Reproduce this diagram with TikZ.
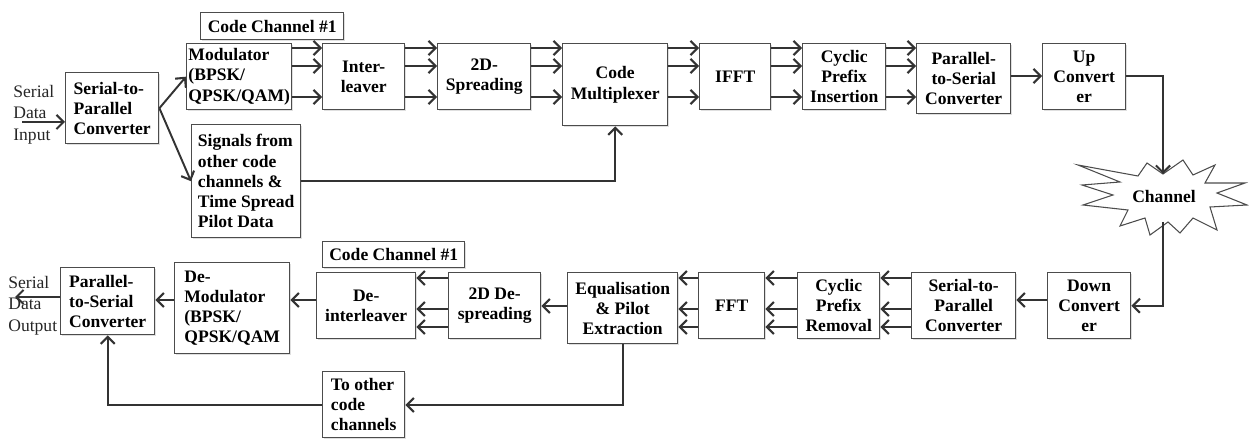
\documentclass[tikz,border=0pt]{standalone}
\usepackage{fontspec}
\setmainfont{Liberation Serif}
\usetikzlibrary{arrows.meta,shadows}
\newcommand{\mybox}[7]{\node[box,#6,minimum width={(#4-#2)*0.02cm},minimum height={(#5-#3)*0.02cm},anchor=north west] (#1) at (#2,#3) {#7};}
\begin{document}
\begin{tikzpicture}[x=0.02cm,y=-0.02cm,
 box/.style={draw=black!70, line width=0.8pt, fill=white, inner sep=1pt,
   font=\bfseries\fontsize{10}{11.5}\selectfont, align=center,
   drop shadow={opacity=0.25,shadow xshift=0.8pt,shadow yshift=-0.8pt}},
 arr/.style={draw=black!80, line width=1.1pt, -{Straight Barb[length=4pt,width=8pt,line width=1.2pt]}},
 lbl/.style={font=\fontsize{10}{12.2}\selectfont, align=left, inner sep=0pt, text=black!85}]
\useasboundingbox (0,0) rectangle (1249,439);

% top row
\mybox{sp}{65}{72}{158}{143}{align=left}{Serial-to-\\Parallel\\Converter}
\mybox{cc1}{200}{12}{343}{39}{}{Code Channel \#1}
\mybox{mod}{186}{43}{289}{109}{align=left}{Modulator\\(BPSK/\\QPSK/QAM)}
\mybox{il}{322}{43}{404}{109}{}{Inter-\\leaver}
\mybox{sprd}{437}{43}{530}{109}{}{2D-\\Spreading}
\mybox{cm}{562}{43}{667}{125}{}{Code\\Multiplexer}
\mybox{ifft}{699}{43}{770}{109}{}{IFFT}
\mybox{cpi}{802}{43}{885}{109}{}{Cyclic\\Prefix\\Insertion}
\mybox{ps1}{916}{43}{1010}{113}{}{Parallel-\\to-Serial\\Converter}
\mybox{up}{1042}{43}{1125}{109}{}{Up\\Convert\\er}
\mybox{sig}{191}{124}{300}{237}{align=left}{Signals from\\other code\\channels \&\\Time Spread\\Pilot Data}

% bottom row
\mybox{cc2}{322}{241}{464}{267}{}{Code Channel \#1}
\mybox{dil}{316}{272}{415}{338}{}{De-\\interleaver}
\mybox{dsp}{448}{272}{540}{338}{}{2D De-\\spreading}
\mybox{eq}{567}{272}{677}{343}{}{Equalisation\\\& Pilot\\Extraction}
\mybox{fft}{698}{272}{764}{338}{}{FFT}
\mybox{cpr}{797}{272}{879}{338}{}{Cyclic\\Prefix\\Removal}
\mybox{sp2}{911}{272}{1015}{338}{}{Serial-to-\\Parallel\\Converter}
\mybox{down}{1047}{272}{1130}{338}{}{Down\\Convert\\er}
\mybox{dmod}{174}{262}{289}{353}{align=left}{De-\\Modulator\\(BPSK/\\QPSK/QAM}
\mybox{ps2}{60}{267}{154}{334}{align=left}{Parallel-\\to-Serial\\Converter}
\mybox{toc}{322}{371}{404}{437}{align=left}{To other\\code\\channels}

% channel star
\draw[draw=black!70, line width=0.6pt, fill=white]
 (1078,165) -- (1138,176) -- (1147,163) -- (1163,174) -- (1183,160) -- (1193,175)
 -- (1215,165) -- (1205,183) -- (1245,183) -- (1217,193) -- (1247,205) -- (1210,207)
 -- (1217,230) -- (1193,218) -- (1180,233) -- (1168,222) -- (1150,235) -- (1145,218)
 -- (1120,226) -- (1128,210) -- (1083,205) -- (1113,195) -- (1082,185) -- (1120,182) -- cycle;
\node[font=\bfseries\fontsize{10}{11.5}\selectfont, inner sep=0pt] (channel) at (1164,196) {Channel};
\coordinate (chtop) at (1163,174);
\coordinate (chbot) at (1163,222);

% labels
\node[lbl, anchor=north west] (inlbl) at (13,85) {Serial\\Data\\Input};
\node[lbl, anchor=north west] (outlbl) at (8,276) {Serial\\Data\\Output};
\coordinate (in) at (22,122);
\coordinate (out) at (15,297);

% top connectors
\draw[arr] (in) -- (sp.west |- in);
\draw[arr] (sp.east) -- (mod.west);
\draw[arr] (sp.east) -- (sig.west);
\foreach \a/\b in {mod/il, il/sprd, sprd/cm, cm/ifft, ifft/cpi, cpi/ps1}
  \foreach \y in {48,66,97}
    \draw[arr] (\a.east |- 0,\y) -- (\b.west |- 0,\y);
\draw[arr] (ps1.east |- 0,76) -- (up.west |- 0,76);
\draw[arr] (up.east |- 0,76) -| (chtop);
\draw[arr] (sig.east |- 0,181) -| (cm.south);

% bottom connectors
\draw[arr] (chbot) |- (down.east);
\draw[arr] (down.west |- 0,300) -- (sp2.east |- 0,300);
\foreach \a/\b in {sp2/cpr, cpr/fft, fft/eq, dsp/dil}
  \foreach \y in {278,309,327}
    \draw[arr] (\a.west |- 0,\y) -- (\b.east |- 0,\y);
\draw[arr] (eq.west |- 0,306) -- (dsp.east |- 0,306);
\draw[arr] (dil.west |- 0,300) -- (dmod.east |- 0,300);
\draw[arr] (dmod.west |- 0,300) -- (ps2.east |- 0,300);
\draw[arr] (ps2.west |- out) -- (out);
\draw[arr] (eq.south) |- (toc.east |- 0,405);
\draw[arr] (toc.west |- 0,405) -| (ps2.south);
\end{tikzpicture}
\end{document}
